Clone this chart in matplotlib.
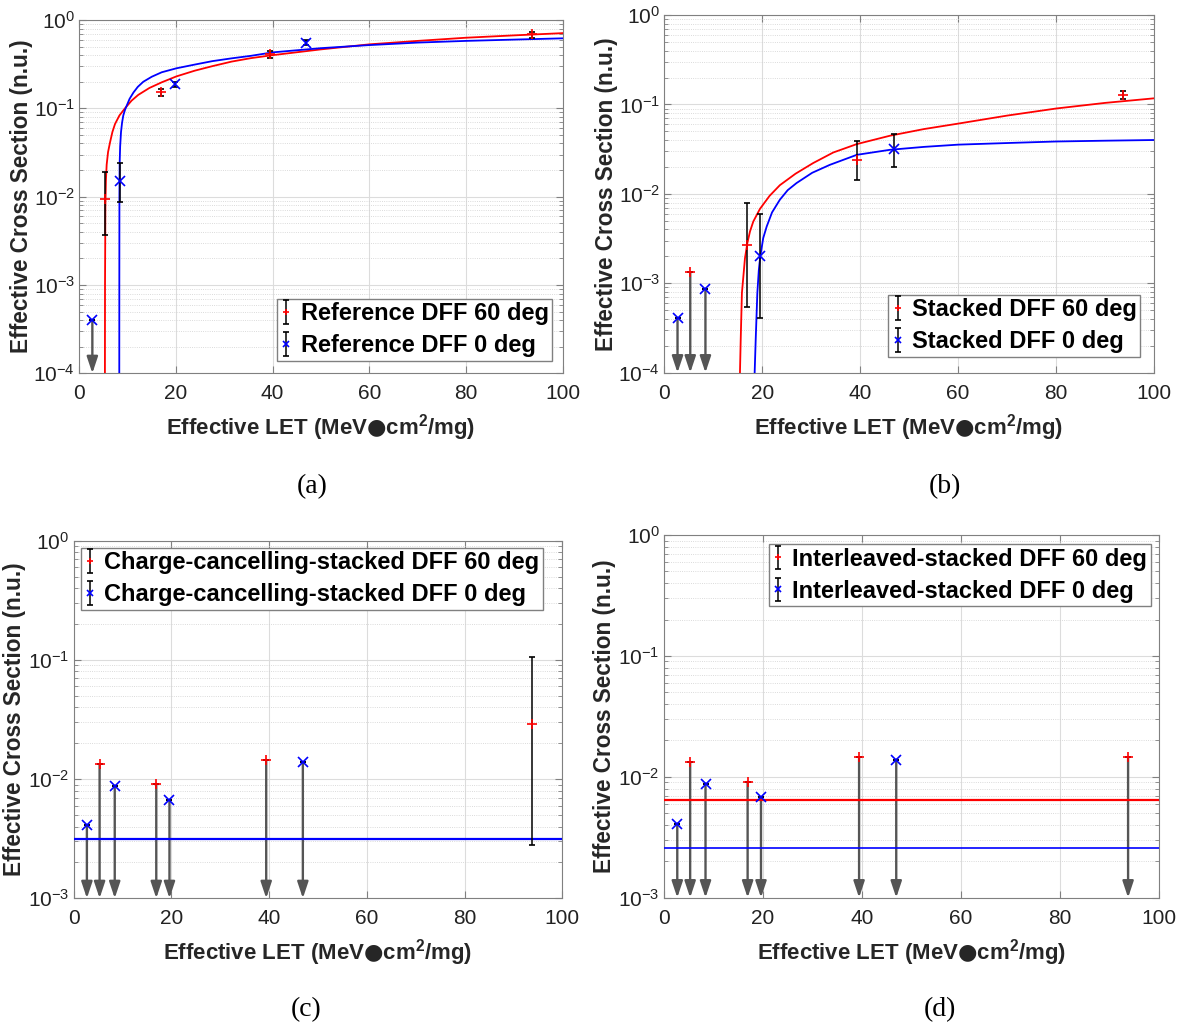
import matplotlib
matplotlib.use("Agg")
import matplotlib.pyplot as plt
import numpy as np

# fonts: Arial-like for axes, Times-like for the (a)...(d) captions
plt.rcParams['font.family'] = ['Liberation Sans', 'DejaVu Sans']
plt.rcParams['mathtext.fontset'] = 'custom'
plt.rcParams['mathtext.rm'] = 'Liberation Sans'
plt.rcParams['mathtext.bf'] = 'Liberation Sans:bold'
plt.rcParams['mathtext.sf'] = 'DejaVu Sans:bold'

# ---- panel (a) : reference DFF ----
a_x60 = [5.3, 16.9, 39.4, 93.7]
a_y60 = [0.0093, 0.153, 0.41, 0.69]
a_lo60 = [0.0037, 0.138, 0.374, 0.63]
a_hi60 = [0.019, 0.164, 0.445, 0.73]
a_lim60 = [False, False, False, False]
a_x0 = [2.7, 8.4, 19.7, 46.9]
a_y0 = [4.0e-4, 0.015, 0.19, 0.55]
a_lo0 = [4.0e-4, 0.0086, 0.176, 0.52]
a_hi0 = [4.0e-4, 0.024, 0.20, 0.59]
a_lim0 = [True, False, False, False]
# fitted curves
a_fit60_x = [5.28, 5.30, 5.32, 5.40, 5.50, 5.66, 5.95, 6.35, 6.85, 7.39, 8.3, 9.45, 10.8, 12.2, 14.5, 17.05,
             20.1, 23.9, 27.5, 31.5, 35.5, 40, 50, 60, 70, 80, 90, 100]
a_fit60_y = [1e-5, 1e-4, 1e-3, 0.008, 0.015, 0.023, 0.032, 0.041, 0.054, 0.0665, 0.083, 0.10, 0.122, 0.142,
             0.17, 0.197, 0.23, 0.267, 0.30, 0.338, 0.37, 0.40, 0.465, 0.53, 0.58, 0.63, 0.67, 0.71]
a_fit0_x = [8.26, 8.27, 8.28, 8.30, 8.35, 8.45, 8.63, 8.85, 9.1, 9.45, 9.8, 10.4, 11.2, 12.1, 13.24, 15,
            17.05, 20.1, 23.9, 27.5, 31.5, 35.5, 40, 50, 60, 70, 80, 90, 100]
a_fit0_y = [1e-5, 1e-4, 1e-3, 0.01, 0.024, 0.037, 0.054, 0.069, 0.083, 0.096, 0.107, 0.128, 0.151, 0.175, 0.2,
            0.228, 0.256, 0.284, 0.313, 0.342, 0.368, 0.393, 0.43, 0.48, 0.52, 0.555, 0.58, 0.60, 0.62]

# ---- panel (b) : stacked DFF ----
b_x60 = [5.3, 16.9, 39.4, 93.7]
b_y60 = [1.33e-3, 2.7e-3, 0.024, 0.127]
b_lo60 = [1.33e-3, 5.4e-4, 0.0143, 0.114]
b_hi60 = [1.33e-3, 7.9e-3, 0.039, 0.142]
b_lim60 = [True, False, False, False]
b_x0 = [2.7, 8.4, 19.6, 46.9]
b_y0 = [4.1e-4, 8.7e-4, 2.0e-3, 0.0315]
b_lo0 = [4.1e-4, 8.7e-4, 4.1e-4, 0.020]
b_hi0 = [4.1e-4, 8.7e-4, 5.9e-3, 0.047]
b_lim0 = [True, True, False, False]
b_fit60_x = [15.42, 15.45, 15.6, 15.85, 16.47, 16.95, 17.5, 18.17, 19.54, 21.5, 23.6, 26.8, 30.4, 34.5, 39.3,
             46.1, 53, 60, 70, 80, 90, 100]
b_fit60_y = [1e-5, 1e-4, 2.3e-4, 7.8e-4, 1.9e-3, 2.8e-3, 3.8e-3, 4.9e-3, 6.8e-3, 9.5e-3, 0.0125, 0.0168,
             0.0221, 0.029, 0.036, 0.0447, 0.053, 0.061, 0.075, 0.090, 0.104, 0.117]
b_fit0_x = [18.42, 18.45, 18.66, 19.0, 19.3, 19.6, 20.2, 20.9, 22.0, 23.6, 25.2, 27.0, 30.2, 33.8, 39.3, 46.1,
            53, 60, 70, 80, 90, 100]
b_fit0_y = [1e-5, 1e-4, 2.3e-4, 7.8e-4, 1.4e-3, 2.0e-3, 3.2e-3, 4.3e-3, 6.2e-3, 8.6e-3, 0.011, 0.0132, 0.0172,
            0.0211, 0.0273, 0.0311, 0.0335, 0.0355, 0.037, 0.0385, 0.0393, 0.040]

# ---- panel (c) : charge-cancelling-stacked DFF ----
c_x60 = [5.3, 16.9, 39.4, 93.7]
c_y60 = [0.0134, 9.1e-3, 0.0145, 0.0289]
c_lo60 = [0.0134, 9.1e-3, 0.0145, 2.8e-3]
c_hi60 = [0.0134, 9.1e-3, 0.0145, 0.105]
c_lim60 = [True, True, True, False]
c_x0 = [2.7, 8.4, 19.6, 46.9]
c_y0 = [4.1e-3, 8.8e-3, 6.7e-3, 0.0138]
c_lo0 = c_y0
c_hi0 = c_y0
c_lim0 = [True, True, True, True]
c_fit_x = [0, 100]
c_fit0_y = [3.15e-3, 3.15e-3]

# ---- panel (d) : interleaved-stacked DFF ----
d_x60 = [5.3, 16.9, 39.4, 93.7]
d_y60 = [0.0133, 9.1e-3, 0.0145, 0.0146]
d_lo60 = d_y60
d_hi60 = d_y60
d_lim60 = [True, True, True, True]
d_x0 = [2.7, 8.4, 19.6, 46.9]
d_y0 = [4.1e-3, 8.8e-3, 6.8e-3, 0.0139]
d_lo0 = d_y0
d_hi0 = d_y0
d_lim0 = [True, True, True, True]
d_fit_x = [0, 100]
d_fit60_y = [6.4e-3, 6.4e-3]
d_fit0_y = [2.57e-3, 2.57e-3]

W, H = 1178, 1028
BOX = '#808080'


def px_axes(fig, left, top, right, bottom):
    return fig.add_axes([left / W, 1 - bottom / H, (right - left) / W, (bottom - top) / H])


def series(ax, x, y, lo, hi, lim, ymin, marker, color, label):
    x = np.array(x); y = np.array(y)
    err = [y - np.array(lo), np.array(hi) - y]
    # upper-limit arrows down to the axis floor
    for xi, yi, li in zip(x, y, lim):
        if li:
            ax.annotate('', xy=(xi, ymin), xytext=(xi, yi),
                        arrowprops=dict(arrowstyle='-|>,head_length=0.9,head_width=0.3', mutation_scale=11,
                                        lw=1.7, color='#555555', shrinkA=0, shrinkB=0), zorder=2)
    return ax.errorbar(x, y, yerr=err, fmt=marker, color=color, ecolor='k', elinewidth=1.1, capsize=2.2,
                       capthick=1.1, markersize=7.5, mew=1.2, label=label, zorder=4)


def style_axes(ax, ymin):
    ax.set_xlim(0, 100)
    ax.set_yscale('log')
    ax.set_ylim(ymin, 1)
    ax.set_xticks([0, 20, 40, 60, 80, 100])
    decs = np.arange(int(np.log10(ymin)), 1)
    ax.set_yticks(10.0 ** decs)
    ax.set_yticklabels([r'$\mathregular{10^{%d}}$' % d for d in decs])
    ax.grid(True, which='major', color='#dcdcdc', lw=0.8)
    ax.grid(True, which='minor', axis='y', color='#cfcfcf', lw=0.6, ls=':')
    ax.tick_params(which='both', direction='in', top=True, right=True, colors=BOX, labelcolor='#222222',
                   labelsize=15)
    ax.tick_params(which='major', length=5)
    ax.tick_params(which='minor', length=3)
    ax.tick_params(axis='x', pad=8)
    ax.tick_params(axis='y', pad=3)
    for s in ax.spines.values():
        s.set_color(BOX)
    ax.set_axisbelow(True)


def legend(ax, loc, anchor):
    leg = ax.legend(loc=loc, bbox_to_anchor=anchor, borderaxespad=0, fancybox=False, edgecolor=BOX,
                    framealpha=1, handlelength=0.5, handletextpad=0.35, borderpad=0.15, labelspacing=0.38,
                    markerscale=0.6, prop=dict(size=17, weight='bold'))
    leg.get_frame().set_linewidth(1.0)


fig = plt.figure(figsize=(W / 100, H / 100), dpi=100)
xlab = r'Effective LET (MeV$\mathsf{●}$cm$^{\mathbf{2}}$/mg)'
ylab = 'Effective Cross Section (n.u.)'

# (a)
ax = px_axes(fig, 79.3, 20, 562.7, 373.3)
style_axes(ax, 1e-4)
ax.plot(a_fit60_x, a_fit60_y, color='r', lw=1.3, zorder=3)
ax.plot(a_fit0_x, a_fit0_y, color='b', lw=1.3, zorder=3)
series(ax, a_x60, a_y60, a_lo60, a_hi60, a_lim60, 1e-4, '+', 'r', 'Reference DFF 60 deg')
series(ax, a_x0, a_y0, a_lo0, a_hi0, a_lim0, 1e-4, 'x', 'b', 'Reference DFF 0 deg')
legend(ax, 'lower right', (0.978, 0.035))

# (b)
ax = px_axes(fig, 664.3, 15, 1154, 372.7)
style_axes(ax, 1e-4)
ax.plot(b_fit60_x, b_fit60_y, color='r', lw=1.3, zorder=3)
ax.plot(b_fit0_x, b_fit0_y, color='b', lw=1.3, zorder=3)
series(ax, b_x60, b_y60, b_lo60, b_hi60, b_lim60, 1e-4, '+', 'r', 'Stacked DFF 60 deg')
series(ax, b_x0, b_y0, b_lo0, b_hi0, b_lim0, 1e-4, 'x', 'b', 'Stacked DFF 0 deg')
legend(ax, 'lower right', (0.972, 0.045))

# (c)
ax = px_axes(fig, 73.7, 540.7, 562.3, 898.3)
style_axes(ax, 1e-3)
ax.plot(c_fit_x, c_fit0_y, color='b', lw=1.6, zorder=3)
series(ax, c_x60, c_y60, c_lo60, c_hi60, c_lim60, 1e-3, '+', 'r', 'Charge-cancelling-stacked DFF 60 deg')
series(ax, c_x0, c_y0, c_lo0, c_hi0, c_lim0, 1e-3, 'x', 'b', 'Charge-cancelling-stacked DFF 0 deg')
legend(ax, 'upper left', (0.0145, 0.980))

# (d)
ax = px_axes(fig, 663.9, 535, 1159.3, 897.7)
style_axes(ax, 1e-3)
ax.plot(d_fit_x, d_fit60_y, color='r', lw=1.6, zorder=3)
ax.plot(d_fit_x, d_fit0_y, color='b', lw=1.2, zorder=3)
series(ax, d_x60, d_y60, d_lo60, d_hi60, d_lim60, 1e-3, '+', 'r', 'Interleaved-stacked DFF 60 deg')
series(ax, d_x0, d_y0, d_lo0, d_hi0, d_lim0, 1e-3, 'x', 'b', 'Interleaved-stacked DFF 0 deg')
legend(ax, 'upper right', (0.983, 0.975))

# axis labels and captions placed in pixel coords
for cx, cy in [(321, 428), (909, 428), (318, 953), (911.6, 953)]:
    fig.text(cx / W, 1 - cy / H, xlab, ha='center', va='center', fontsize=16, fontweight='bold',
             color='#262626')
for cx, cy in [(21.5, 196.6), (606.5, 193.8), (14.5, 719.5), (604, 716.3)]:
    fig.text(cx / W, 1 - cy / H, ylab, ha='center', va='center', rotation=90, fontsize=16.3,
             fontweight='bold', color='#262626')
for txt, cx, cy in [('(a)', 312, 487), ('(b)', 945, 487), ('(c)', 306, 1010), ('(d)', 940, 1010)]:
    fig.text(cx / W, 1 - cy / H, txt, ha='center', va='center', fontsize=20, family='Liberation Serif')

fig.savefig('out.png', dpi=100)
